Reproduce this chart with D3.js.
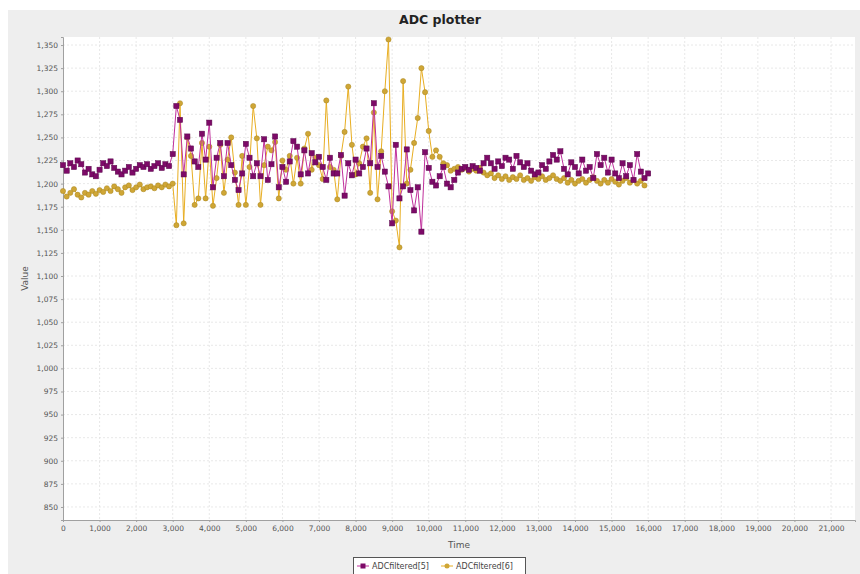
<!DOCTYPE html>
<html>
<head>
<meta charset="utf-8">
<script src="https://cdn.jsdelivr.net/npm/d3@7/dist/d3.min.js"></script>
<style>
  html, body { margin: 0; padding: 0; background: #ffffff; }
  svg { display: block; }
</style>
</head>
<body>
<svg id="chart" width="860" height="574"></svg>
<script>
// ---- data ----
const title = "ADC plotter";
const xLabel = "Time";
const yLabel = "Value";
const seriesNames = ["ADCfiltered[5]", "ADCfiltered[6]"];
const timeStart = 0;
const timeStep = 100;
const xTicks = [0,1000,2000,3000,4000,5000,6000,7000,8000,9000,10000,11000,12000,13000,14000,15000,16000,17000,18000,19000,20000,21000];
const yTicks = [850,875,900,925,950,975,1000,1025,1050,1075,1100,1125,1150,1175,1200,1225,1250,1275,1300,1325,1350];

const adc5 = [
  1220,1214,1222,1218,1225,1221,1212,1216,1210,1208,1215,1222,1219,1224,1217,1213,1210,1214,1218,1212,
  1216,1220,1218,1221,1216,1219,1222,1217,1221,1219,
  1232,1284,1269,1210,1251,1238,1224,1218,1254,1226,1266,1196,1228,1244,1208,1244,1220,1204,1193,1211,
  1243,1228,1208,1222,1208,1248,1204,1221,1251,1196,1218,1202,1224,1246,1240,1210,1236,1211,1233,1223,
  1229,1218,1204,1228,1211,1211,1231,1187,1222,1209,1226,1211,1218,1238,1222,1287,1218,1230,1213,1197,
  1157,1242,1184,1197,1237,1193,1171,1196,1148,1234,1217,1202,1198,1208,1218,
  1200,1196,1204,1212,1216,1218,1215,1219,1217,1214,1222,1228,1222,1216,1224,1219,1228,1226,1216,1230,
  1223,1218,1222,1214,1210,1212,1220,1216,1224,1231,1226,1235,1216,1210,1223,1218,1211,1226,1214,1218,
  1206,1232,1220,1228,1212,1226,1211,1206,1222,1208,1220,1204,1232,1213,1206,1211
];

const adc6 = [
  1192,1186,1190,1194,1188,1185,1190,1188,1192,1189,1193,1191,1195,1192,1197,1194,1190,1196,1198,1193,
  1196,1199,1194,1196,1197,1195,1198,1196,1199,1197,
  1200,1155,1287,1157,1250,1230,1177,1184,1244,1184,1240,1176,1206,1242,1190,1226,1250,1212,1177,1230,
  1177,1218,1284,1249,1177,1220,1240,1236,1245,1184,1225,1215,1230,1200,1228,1200,1238,1254,1215,1228,
  1220,1205,1290,1218,1215,1183,1230,1256,1305,1242,1210,1222,1240,1249,1190,1277,1183,1235,1300,1356,
  1170,1160,1131,1311,1200,1215,1244,1271,1325,1299,1257,1229,1236,1229,1222,
  1220,1214,1216,1218,1215,1217,1213,1216,1214,1217,1212,1209,1211,1206,1209,1205,1208,1204,1207,1205,
  1209,1204,1206,1203,1207,1205,1208,1204,1206,1209,1205,1203,1206,1201,1204,1200,1203,1205,1201,1204,
  1207,1203,1200,1204,1201,1205,1202,1199,1203,1206,1201,1204,1200,1203,1198
];

const seriesColors = [
  { line: "#c0309c", fill: "#7d0a68", stroke: "#5a0a4c" },
  { line: "#e8ae22", fill: "#cfa636", stroke: "#a98620" }
];

// ---- layout ----
const W = 860, H = 574;
const plot = { left: 63, right: 855, top: 37, bottom: 520 };

const svg = d3.select("#chart");

// panel background
svg.append("rect").attr("x", 0).attr("y", 0).attr("width", W).attr("height", H).attr("fill", "#ffffff");
svg.append("rect").attr("x", 8).attr("y", 10).attr("width", W - 8).attr("height", H - 10).attr("fill", "#eeeeee");

const x = d3.scaleLinear().domain([0, 21656]).range([plot.left, plot.right]);
const y = d3.scaleLinear().domain([835.9, 1358.7]).range([plot.bottom, plot.top]);

// plot background
svg.append("rect")
  .attr("x", plot.left).attr("y", plot.top)
  .attr("width", plot.right - plot.left).attr("height", plot.bottom - plot.top)
  .attr("fill", "#ffffff");

// grid
const grid = svg.append("g").attr("stroke", "#e2e2e2").attr("stroke-width", 0.8).attr("stroke-dasharray", "2,2");
grid.selectAll("line.v").data(xTicks.slice(1)).join("line")
  .attr("x1", d => x(d)).attr("x2", d => x(d))
  .attr("y1", plot.top).attr("y2", plot.bottom);
grid.selectAll("line.h").data(yTicks).join("line")
  .attr("y1", d => y(d)).attr("y2", d => y(d))
  .attr("x1", plot.left).attr("x2", plot.right);

// axes
const fmt = d3.format(",");
const xAxis = d3.axisBottom(x).tickValues(xTicks).tickFormat(fmt).tickSize(2).tickPadding(4);
const yAxis = d3.axisLeft(y).tickValues(yTicks).tickFormat(fmt).tickSize(2).tickPadding(3);

const gx = svg.append("g").attr("transform", `translate(0,${plot.bottom})`).call(xAxis);
const gy = svg.append("g").attr("transform", `translate(${plot.left},0)`).call(yAxis);
[gx, gy].forEach(g => {
  g.select(".domain").attr("stroke", "#a0a0a0").attr("stroke-width", 1);
  g.selectAll(".tick line").attr("stroke", "#a0a0a0");
  g.selectAll(".tick text").attr("fill", "#555555")
    .style("font-family", "'DejaVu Sans', sans-serif").style("font-size", "7.5px");
});

// series
const series = [adc6, adc5];
const colorIdx = [1, 0];
series.forEach((vals, k) => {
  const c = seriesColors[colorIdx[k]];
  const pts = vals.map((v, i) => ({ t: timeStart + i * timeStep, v }));
  const line = d3.line().x(d => x(d.t)).y(d => y(d.v));
  const g = svg.append("g");
  g.append("path").datum(pts).attr("d", line)
    .attr("fill", "none").attr("stroke", c.line).attr("stroke-width", 1);
  if (colorIdx[k] === 0) {
    g.selectAll("rect").data(pts).join("rect")
      .attr("x", d => x(d.t) - 2.6).attr("y", d => y(d.v) - 2.6)
      .attr("width", 5.2).attr("height", 5.2)
      .attr("fill", c.fill).attr("stroke", c.stroke).attr("stroke-width", 0.5);
  } else {
    g.selectAll("circle").data(pts).join("circle")
      .attr("cx", d => x(d.t)).attr("cy", d => y(d.v)).attr("r", 2.6)
      .attr("fill", c.fill).attr("stroke", c.stroke).attr("stroke-width", 0.5);
  }
});

// title
svg.append("text").attr("x", 440).attr("y", 24).attr("text-anchor", "middle")
  .style("font-family", "'DejaVu Sans', sans-serif").style("font-size", "12.5px").style("font-weight", "bold")
  .attr("fill", "#222222").text(title);

// axis labels
svg.append("text").attr("x", (plot.left + plot.right) / 2).attr("y", 548).attr("text-anchor", "middle")
  .style("font-family", "'DejaVu Sans', sans-serif").style("font-size", "9px").attr("fill", "#555555").text(xLabel);
svg.append("text").attr("transform", `translate(28,${(plot.top + plot.bottom) / 2}) rotate(-90)`)
  .attr("text-anchor", "middle")
  .style("font-family", "'DejaVu Sans', sans-serif").style("font-size", "9px").attr("fill", "#555555").text(yLabel);

// legend
const lg = svg.append("g");
lg.append("rect").attr("x", 353.5).attr("y", 557.5).attr("width", 172).attr("height", 20)
  .attr("fill", "#ffffff").attr("stroke", "#555555").attr("stroke-width", 1);
const items = [
  { name: seriesNames[0], c: seriesColors[0], sq: true, x0: 357 },
  { name: seriesNames[1], c: seriesColors[1], sq: false, x0: 441 }
];
items.forEach(it => {
  const cy = 566;
  lg.append("line").attr("x1", it.x0).attr("x2", it.x0 + 12).attr("y1", cy).attr("y2", cy)
    .attr("stroke", it.c.line).attr("stroke-width", 1);
  if (it.sq) {
    lg.append("rect").attr("x", it.x0 + 3.5).attr("y", cy - 2.5).attr("width", 5).attr("height", 5)
      .attr("fill", it.c.fill);
  } else {
    lg.append("circle").attr("cx", it.x0 + 6).attr("cy", cy).attr("r", 2.5).attr("fill", it.c.fill);
  }
  lg.append("text").attr("x", it.x0 + 15).attr("y", cy + 3)
    .style("font-family", "'DejaVu Sans', sans-serif").style("font-size", "8px").attr("fill", "#444444")
    .text(it.name);
});
</script>
</body>
</html>
